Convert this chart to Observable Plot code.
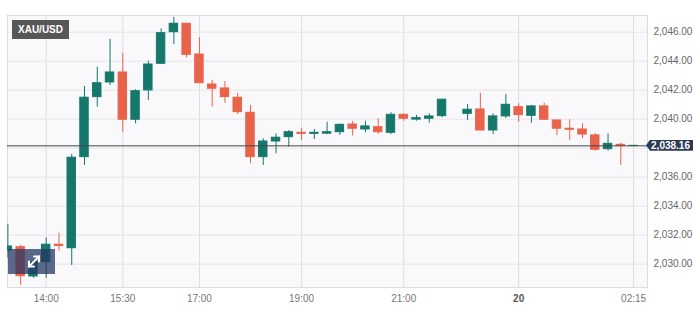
<!DOCTYPE html>
<html>
<head>
<meta charset="utf-8">
<script src="https://cdn.jsdelivr.net/npm/d3@7"></script>
<script src="https://cdn.jsdelivr.net/npm/@observablehq/plot@0.6"></script>
<style>
html,body{margin:0;padding:0;background:#fff;}
#wrap{position:relative;width:700px;height:312px;overflow:hidden;font-family:Arial,"Liberation Sans",sans-serif;}
#wrap svg{display:block;}
.sym{position:absolute;left:12px;top:20px;width:57px;height:19px;background:#575757;color:#fff;font-weight:bold;font-size:10px;line-height:19px;text-align:center;}
.price{position:absolute;left:646px;width:47px;height:11px;background:#2b3a55;color:#fff;font-weight:bold;font-size:10px;line-height:11px;text-align:right;box-sizing:border-box;padding-right:3px;clip-path:polygon(0 50%,4px 0,100% 0,100% 100%,4px 100%);}
.fs{position:absolute;left:8px;top:249px;width:47px;height:25px;background:rgba(39,55,99,0.75);}
</style>
</head>
<body>
<div id="wrap"></div>
<script>
// Candle slots (15-minute bars), 0 = 14:00
const slots = [-3,-2,-1,0,1,2,3,4,5,6,7,8,9,10,11,12,13,14,15,16,17,18,19,20,21,22,23,24,25,26,27,28,29,30,31,32,33,34,35,36,37,38,39,40,41,42,43,44,45,46];
const opens = [2030.95,2031.17,2029.15,2030.14,2031.34,2031.10,2037.38,2041.52,2042.53,2043.22,2039.96,2041.98,2043.82,2046.00,2046.58,2044.46,2042.39,2042.12,2041.48,2040.44,2037.38,2038.46,2038.76,2039.06,2038.99,2039.00,2039.10,2039.63,2039.29,2039.45,2039.06,2040.30,2039.97,2040.03,2040.21,2041.34,2040.37,2040.67,2039.22,2040.19,2040.83,2040.23,2040.88,2039.91,2039.34,2039.29,2038.88,2037.93,2038.23,2038.15];
const highs = [2032.74,2031.30,2030.30,2031.82,2032.14,2037.57,2042.26,2043.59,2045.50,2044.55,2042.03,2044.00,2046.23,2047.03,2046.60,2045.61,2042.67,2042.60,2041.79,2040.94,2038.65,2038.99,2039.22,2039.38,2039.29,2039.79,2039.65,2039.84,2039.86,2040.03,2040.44,2040.37,2040.26,2040.37,2041.38,2041.34,2041.01,2041.79,2040.37,2041.70,2041.06,2040.94,2041.10,2039.93,2039.96,2039.68,2038.99,2038.99,2038.34,2038.18];
const lows = [2030.40,2028.53,2029.03,2029.03,2030.90,2029.91,2036.81,2040.83,2042.32,2039.10,2039.68,2041.29,2043.77,2045.15,2044.23,2042.45,2040.83,2041.10,2040.32,2036.92,2036.81,2037.61,2038.07,2038.53,2038.60,2038.94,2038.88,2038.84,2039.06,2038.94,2038.94,2039.86,2039.86,2039.72,2040.10,2041.34,2039.91,2039.20,2038.94,2040.05,2039.79,2039.72,2039.95,2038.88,2038.53,2038.65,2037.79,2037.79,2036.81,2038.14];
const closes = [2031.22,2029.17,2030.14,2031.34,2031.25,2037.34,2041.48,2042.48,2043.22,2039.96,2041.93,2043.77,2045.93,2046.58,2044.44,2042.48,2042.10,2041.52,2040.48,2037.38,2038.46,2038.72,2039.10,2038.99,2039.06,2039.10,2039.61,2039.34,2039.50,2039.10,2040.30,2040.03,2040.07,2040.19,2041.34,2041.34,2040.65,2039.22,2040.19,2040.99,2040.28,2040.88,2039.96,2039.34,2039.27,2038.94,2037.89,2038.30,2038.16,2038.16];

const tickSlots = [0, 6, 12, 20, 28, 37, 46];
const tickLabels = ["14:00", "15:30", "17:00", "19:00", "21:00", "20", "02:15"];
const yGrid = [2030, 2032, 2034, 2036, 2038, 2040, 2042, 2044, 2046];
const yLabelTicks = [2030, 2032, 2034, 2036, 2040, 2042, 2044, 2046]; // 2,038.00 is hidden behind the price tag
const symbol = "XAU/USD";
const lastPrice = 2038.16;

const UP = "#16786b", DOWN = "#e9634a", FLAT = "#666666";
const candles = slots.map((s, k) => ({i: s, open: opens[k], high: highs[k], low: lows[k], close: closes[k]}));
const col = d => d.close > d.open ? UP : d.close < d.open ? DOWN : FLAT;
const labelMap = new Map(tickSlots.map((t, k) => [t, tickLabels[k]]));

const chart = Plot.plot({
  width: 700, height: 312,
  marginLeft: 7, marginRight: 53, marginTop: 15, marginBottom: 25,
  style: {fontFamily: "Arial, 'Liberation Sans', sans-serif", fontSize: "10px", background: "#fff", color: "#777", overflow: "visible"},
  x: {domain: [-3.03, 47.09], axis: null},
  y: {domain: [2028.39, 2047.15], axis: null},
  marks: [
    Plot.frame({fill: "#f9f9fb", stroke: null}),
    Plot.gridX(tickSlots, {stroke: "#dcdce2", strokeOpacity: 1}),
    Plot.gridY(yGrid, {stroke: "#e5e5ea", strokeOpacity: 1}),
    Plot.frame({stroke: "#dcdce0", fill: null}),
    Plot.axisX(tickSlots, {tickSize: 0, tickPadding: 7, tickFormat: d => labelMap.get(d), fill: "#777", label: null}),
    Plot.axisY(yLabelTicks, {anchor: "right", tickSize: 0, tickPadding: 6, tickFormat: d3.format(",.2f"), fill: "#666", label: null}),
    Plot.ruleX(candles, {x: "i", y1: "low", y2: "high", stroke: col, strokeWidth: 1, clip: true}),
    Plot.rect(candles, {x1: d => d.i - 0.33, x2: d => d.i + 0.33, y1: "open", y2: "close", fill: col, stroke: col, strokeWidth: 1, clip: true}),
    Plot.ruleY([lastPrice], {stroke: "#444", strokeWidth: 1})
  ]
});

const wrap = document.getElementById("wrap");
wrap.appendChild(chart);

d3.select(chart).selectAll("text").each(function() {
  if (this.textContent === "20") { d3.select(this).attr("font-weight", "bold").attr("fill", "#555"); }
});

const sym = document.createElement("div");
sym.className = "sym"; sym.textContent = symbol;
wrap.appendChild(sym);

const py = chart.scale("y").apply(lastPrice);
const price = document.createElement("div");
price.className = "price";
price.style.top = (py - 5.5) + "px";
price.textContent = d3.format(",.2f")(lastPrice);
wrap.appendChild(price);

const fs = document.createElement("div");
fs.className = "fs";
fs.innerHTML = '<svg width="47" height="25" viewBox="0 0 47 25"><g stroke="#fff" stroke-width="2" fill="none" stroke-linecap="round"><line x1="21" y1="17.5" x2="31" y2="7.5"/><polyline points="26,7.5 31,7.5 31,12.5"/><polyline points="21,12.5 21,17.5 26,17.5"/></g></svg>';
wrap.appendChild(fs);
</script>
</body>
</html>
